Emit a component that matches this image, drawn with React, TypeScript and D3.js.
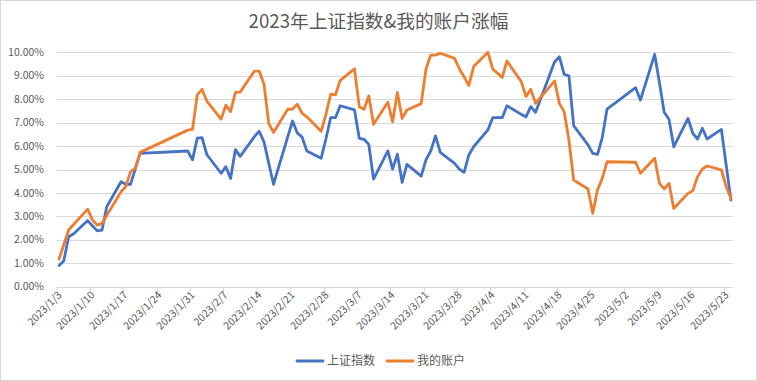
import React from "react";
import * as d3 from "d3";

const title = "2023年上证指数&我的账户涨幅";
const seriesNames = ["上证指数", "我的账户"];
const colors = ["#4472C4", "#ED7D31"];

const dates = [
  "2023/1/3","2023/1/4","2023/1/5","2023/1/6","2023/1/9","2023/1/10","2023/1/11","2023/1/12","2023/1/13",
  "2023/1/16","2023/1/17","2023/1/18","2023/1/19","2023/1/20","2023/1/30","2023/1/31",
  "2023/2/1","2023/2/2","2023/2/3","2023/2/6","2023/2/7","2023/2/8","2023/2/9","2023/2/10",
  "2023/2/13","2023/2/14","2023/2/15","2023/2/16","2023/2/17","2023/2/20","2023/2/21","2023/2/22","2023/2/23","2023/2/24",
  "2023/2/27","2023/2/28","2023/3/1","2023/3/2","2023/3/3","2023/3/6","2023/3/7","2023/3/8","2023/3/9","2023/3/10",
  "2023/3/13","2023/3/14","2023/3/15","2023/3/16","2023/3/17","2023/3/20","2023/3/21","2023/3/22","2023/3/23","2023/3/24",
  "2023/3/27","2023/3/28","2023/3/29","2023/3/30","2023/3/31","2023/4/3","2023/4/4","2023/4/6","2023/4/7",
  "2023/4/10","2023/4/11","2023/4/12","2023/4/13","2023/4/14","2023/4/17","2023/4/18","2023/4/19","2023/4/20","2023/4/21",
  "2023/4/24","2023/4/25","2023/4/26","2023/4/27","2023/4/28","2023/5/4","2023/5/5",
  "2023/5/8","2023/5/9","2023/5/10","2023/5/11","2023/5/12","2023/5/15","2023/5/16","2023/5/17","2023/5/18","2023/5/19",
  "2023/5/22","2023/5/23","2023/5/24"
];

// 上证指数 (%)
const shIndex = [
  0.90,1.11,2.13,2.25,2.82,2.60,2.38,2.41,3.41,
  4.48,4.37,4.37,5.03,5.69,5.79,5.41,
  6.34,6.36,5.64,4.84,5.12,4.62,5.85,5.56,
  6.40,6.63,6.18,5.27,4.37,6.40,7.07,6.56,6.38,5.79,
  5.48,6.30,7.21,7.21,7.72,7.54,6.33,6.29,6.07,4.59,
  5.79,5.02,5.65,4.45,5.22,4.72,5.41,5.79,6.43,5.73,
  5.26,5.02,4.88,5.62,5.97,6.69,7.21,7.21,7.72,
  7.35,7.25,7.68,7.44,7.98,9.60,9.81,9.06,9.00,6.87,
  6.05,5.69,5.65,6.36,7.58,8.49,7.96,
  9.91,8.70,7.44,7.14,5.97,7.18,6.54,6.30,6.76,6.30,
  6.71,5.20,3.70
];

// 我的账户 (%)
const myAccount = [
  1.18,1.80,2.42,2.64,3.31,2.85,2.63,2.70,3.04,
  4.05,4.27,4.91,5.05,5.73,6.68,6.71,
  8.18,8.42,7.92,7.15,7.74,7.47,8.29,8.30,
  9.20,9.20,8.64,6.97,6.58,7.57,7.58,7.78,7.40,7.25,
  6.63,7.35,8.21,8.18,8.80,9.29,7.68,7.57,8.14,6.93,
  7.87,7.04,8.29,7.18,7.54,7.81,9.29,9.88,9.88,9.96,
  9.74,9.30,8.96,8.58,9.39,10.00,9.29,8.93,9.63,
  8.75,8.11,8.42,7.82,8.06,8.78,7.82,7.47,6.26,4.55,
  4.17,3.13,4.13,4.62,5.33,5.31,4.84,
  5.48,4.41,4.17,4.41,3.34,3.98,4.10,4.69,5.02,5.15,
  4.98,4.27,3.77
];

const tickLabels = [
  "2023/1/3","2023/1/10","2023/1/17","2023/1/24","2023/1/31","2023/2/7","2023/2/14",
  "2023/2/21","2023/2/28","2023/3/7","2023/3/14","2023/3/21","2023/3/28","2023/4/4",
  "2023/4/11","2023/4/18","2023/4/25","2023/5/2","2023/5/9","2023/5/16","2023/5/23"
];
const yTicks = [0, 1, 2, 3, 4, 5, 6, 7, 8, 9, 10];

const parse = (s: string) => {
  const [y, m, d] = s.split("/").map(Number);
  return new Date(y, m - 1, d);
};

const W = 757, H = 381;
const FONT = "'Noto Sans CJK SC', 'Noto Sans', sans-serif";

export default function App() {
  const x = d3.scaleTime()
    .domain([parse("2023/1/3"), d3.timeDay.offset(parse("2023/5/24"), 1)])
    .range([56.7, 733.3]);
  const y = d3.scaleLinear().domain([0, 10]).range([286.7, 52.3]);
  const center = (s: string) => x(d3.timeHour.offset(parse(s), 12));

  const mk = (vals: number[]) =>
    d3.line<number>()
      .x((_, i) => center(dates[i]))
      .y((v) => y(v))(vals) || "";

  const series = [shIndex, myAccount];
  const [x0, x1] = x.range();

  return (
    <svg width={W} height={H} style={{ position: "fixed", left: 0, top: 0, background: "#fff" }}>
      <rect x={0.5} y={0.5} width={W - 1} height={H - 1} fill="#fff" stroke="#d9d9d9" />
      <text x={W / 2} y={28} textAnchor="middle" fontFamily={FONT} fontSize={18.7} fill="#595959">{title}</text>
      {yTicks.map((t) => (
        <g key={t}>
          <line x1={x0} x2={x1} y1={Math.round(y(t)) + 0.5} y2={Math.round(y(t)) + 0.5} stroke="#d9d9d9" strokeWidth={1} />
          <text x={44} y={y(t)} dy="0.35em" textAnchor="end" fontFamily={FONT} fontSize={10.5} fill="#595959">
            {d3.format(".2f")(t) + "%"}
          </text>
        </g>
      ))}
      {tickLabels.map((s) => {
        const tx = Math.round(x(parse(s))) + 0.5;
        return (
          <g key={s}>
            <line x1={tx} x2={tx} y1={y(0)} y2={y(0) + 5} stroke="#d9d9d9" />
            <text transform={`translate(${tx + 5},${y(0) + 9}) rotate(-45)`} textAnchor="end" fontFamily={FONT} fontSize={10.5} fill="#595959">
              {s}
            </text>
          </g>
        );
      })}
      {series.map((vals, i) => (
        <path key={i} d={mk(vals)} fill="none" stroke={colors[i]} strokeWidth={2.8} strokeLinejoin="round" strokeLinecap="round" />
      ))}
      {seriesNames.map((n, i) => {
        const lx = [297, 387][i];
        return (
          <g key={n}>
            <line x1={lx} x2={lx + 26} y1={361} y2={361} stroke={colors[i]} strokeWidth={2.8} strokeLinecap="round" />
            <text x={lx + 30} y={361} dy="0.35em" fontFamily={FONT} fontSize={12} fill="#595959">{n}</text>
          </g>
        );
      })}
    </svg>
  );
}
